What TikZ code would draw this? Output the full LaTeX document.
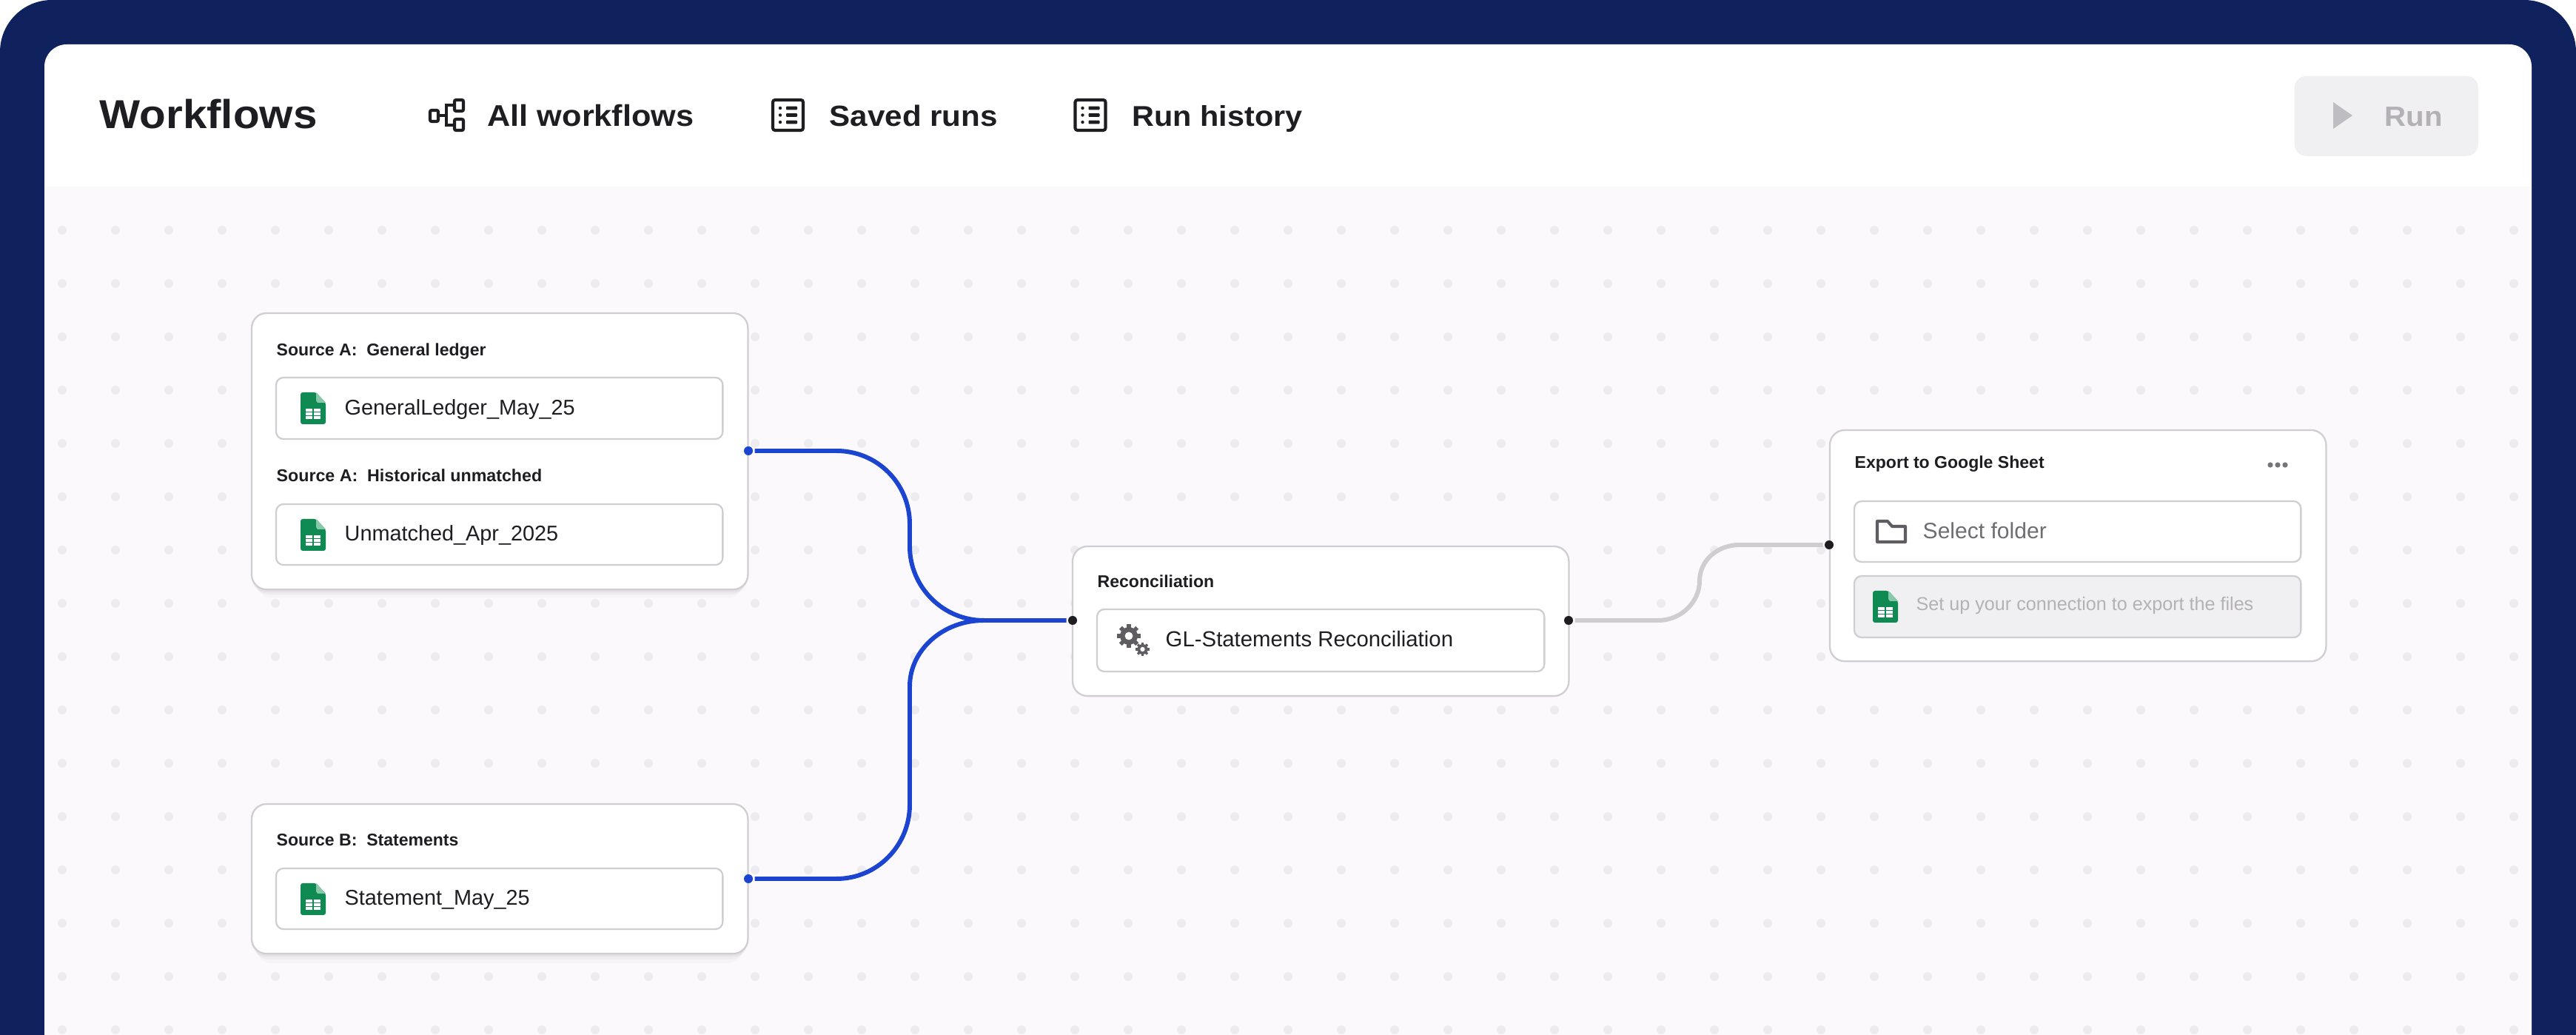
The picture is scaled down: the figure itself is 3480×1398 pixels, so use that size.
\documentclass[tikz,border=0pt]{standalone}
\usepackage{fontspec}
\setmainfont{Liberation Sans}
\newfontfamily\headfont[FakeStretch=1.07]{Liberation Sans}
\usetikzlibrary{shadows}

\definecolor{navyframe}{HTML}{10225E}
\definecolor{canvasbg}{HTML}{FBF9FC}
\definecolor{griddot}{HTML}{ECEBEF}
\definecolor{inkdark}{HTML}{1E1D21}
\definecolor{edgegray}{HTML}{D0CED3}
\definecolor{flowblue}{HTML}{1B45D1}
\definecolor{flowgray}{HTML}{CFCDD1}
\definecolor{disabledbg}{HTML}{F0EFF2}
\definecolor{disabledtxt}{HTML}{B3B1B6}
\definecolor{sheetgreen}{HTML}{0F8A53}
\definecolor{sheetfold}{HTML}{86C8A8}
\definecolor{iconin}{HTML}{5F5D62}

\tikzset{
    card/.style={draw=edgegray, line width=.65pt, fill=white, rounded corners=.2cm, inner sep=0, outer sep=0, anchor=north west},
    softcard/.style={card,
        drop shadow={shadow xshift=0cm, shadow yshift=-.04cm, opacity=.04, fill=black},
        drop shadow={shadow xshift=0cm, shadow yshift=-.09cm, shadow scale=.99, opacity=.03, fill=black},
        drop shadow={shadow xshift=0cm, shadow yshift=-.15cm, shadow scale=.98, opacity=.02, fill=black}},
    slot/.style={draw=edgegray, line width=.65pt, fill=white, rounded corners=.1cm, inner sep=0, outer sep=0, anchor=north west},
    label/.style={anchor=base west, inner sep=0, text=inkdark},
    navlabel/.style={label, font=\headfont\bfseries\fontsize{11.5}{14}\selectfont},
    cardtitle/.style={label, font=\bfseries\fontsize{6.55}{8}\selectfont},
    slottext/.style={label, font=\fontsize{8.2}{10}\selectfont},
    portblue/.style={circle, fill=flowblue, minimum size=.12cm, inner sep=0, outer sep=.025cm},
    portdark/.style={circle, fill=inkdark, minimum size=.12cm, inner sep=0, outer sep=.025cm},
    flowline/.style={draw=flowblue, line width=1.7pt},
    idleline/.style={draw=flowgray, line width=1.7pt},
    sheeticon/.pic={
        \fill [sheetgreen, rounded corners=.03cm] (0,0) -- (21,0) -- (34,14) -- (34,43) -- (0,43) -- cycle;
        \fill [sheetfold] (21,0) -- (34,14) -- (23,14) -- (21,11) -- cycle;
        \fill [white] (7,22) rectangle (27,36);
        \draw [sheetgreen, line width=.4pt] (7,26.7) -- (27,26.7) (7,31.3) -- (27,31.3) (17,22) -- (17,36);
    },
    listicon/.pic={
        \draw [inkdark, line width=1.15pt, rounded corners=.03cm] (2,2) rectangle (43,43);
        \foreach \rowy in {13,22.5,32} {
            \fill [inkdark] (12,\rowy) circle (2.2);
            \fill [inkdark, rounded corners=.01cm] (20,\rowy-2.3) rectangle (35,\rowy+2.3);
        }
    },
    gearwheel/.pic={
        \foreach \ang in {0,45,...,315} {
            \fill [iconin, rotate=\ang] (-.22*\gearsize,-1.3*\gearsize) rectangle (.22*\gearsize,1.3*\gearsize);
        }
        \fill [iconin] (0,0) circle (\gearsize);
        \fill [white] (0,0) circle (.45*\gearsize);
    }
}

\begin{document}
\begin{tikzpicture}[x=.01cm, y=-.01cm]
    \useasboundingbox (0,0) rectangle (3480,1398);

    % Frame and canvas
    \fill [navyframe] (0,1398) -- (0,70) arc [start angle=180, end angle=270, radius=70] -- (3410,0) arc [start angle=270, end angle=360, radius=70] -- (3480,1398) -- cycle;
    \fill [white] (60,1398) -- (60,90) arc [start angle=180, end angle=270, radius=30] -- (3390,60) arc [start angle=270, end angle=360, radius=30] -- (3420,1398) -- cycle;
    \fill [canvasbg] (60,252) rectangle (3420,1398);
    \foreach \i in {0,...,46} {
        \foreach \j in {0,...,15} {
            \fill [griddot] (84+72*\i,311+72*\j) circle (6);
        }
    }

    % Top bar
    \node [label, font=\headfont\bfseries\fontsize{15.5}{18}\selectfont] (pagetitle) at (134,174) {Workflows};

    \draw [inkdark, line width=1.15pt, rounded corners=.02cm] (581,149) rectangle (592,164);
    \draw [inkdark, line width=1.15pt, rounded corners=.02cm] (614,135) rectangle (626,150);
    \draw [inkdark, line width=1.15pt, rounded corners=.02cm] (614,161) rectangle (626,176);
    \draw [inkdark, line width=1.15pt] (592,156) -- (603,156) (614,142) -- (603,142) -- (603,169) -- (614,169);
    \node [navlabel] (navall) at (658,171) {All workflows};

    \pic at (1042,133) {listicon};
    \node [navlabel, font=\headfont\bfseries\fontsize{11.2}{14}\selectfont] (navsaved) at (1120,171) {Saved runs};

    \pic at (1450.5,133) {listicon};
    \node [navlabel, font=\headfont\bfseries\fontsize{11}{14}\selectfont] (navhistory) at (1529,171) {Run history};

    \node [draw=none, fill=disabledbg, rounded corners=.16cm, minimum width=2.48cm, minimum height=1.08cm, inner sep=0, anchor=north west] (runbtn) at (3099,102) {};
    \fill [disabledtxt!85!white] (3152,138) -- (3178,156) -- (3152,174) -- cycle;
    \node [navlabel, text=disabledtxt, font=\headfont\bfseries\fontsize{10.7}{14}\selectfont] (runlabel) at (3221,171) {Run};

    % Source A
    \node [softcard, minimum width=6.7cm, minimum height=3.73cm] (srcA) at (340,423) {};
    \node [cardtitle] (srcAtitle) at (373,481) {Source A:\ \ General ledger};
    \node [slot, minimum width=6.03cm, minimum height=.83cm] (ledgerslot) at (373,510) {};
    \pic at (406,530) {sheeticon};
    \node [slottext] (ledgerfile) at (465,561) {GeneralLedger\_May\_25};
    \node [cardtitle, font=\bfseries\fontsize{6.6}{8}\selectfont] (srcAtitletwo) at (373,651) {Source A:\ \ Historical unmatched};
    \node [slot, minimum width=6.03cm, minimum height=.82cm] (unmatchedslot) at (373,681) {};
    \pic at (406,701) {sheeticon};
    \node [slottext] (unmatchedfile) at (465,731) {Unmatched\_Apr\_2025};

    % Source B
    \node [softcard, minimum width=6.7cm, minimum height=2.02cm] (srcB) at (340,1086) {};
    \node [cardtitle] (srcBtitle) at (373,1143) {Source B:\ \ Statements};
    \node [slot, minimum width=6.03cm, minimum height=.82cm] (statementslot) at (373,1173) {};
    \pic at (406,1193) {sheeticon};
    \node [slottext] (statementfile) at (465,1223) {Statement\_May\_25};

    % Reconciliation
    \node [card, minimum width=6.7cm, minimum height=2.02cm] (recon) at (1449,738) {};
    \node [cardtitle] (recontitle) at (1482,794) {Reconciliation};
    \node [slot, minimum width=6.04cm, minimum height=.84cm] (reconslot) at (1482,823) {};
    \def\gearsize{12}
    \pic at (1525,859) {gearwheel};
    \def\gearsize{7}
    \pic at (1543.5,877) {gearwheel};
    \node [slottext, font=\fontsize{8.35}{10}\selectfont] (reconname) at (1574,874) {GL-Statements Reconciliation};

    % Export
    \node [card, minimum width=6.7cm, minimum height=3.12cm] (export) at (2472,581) {};
    \node [cardtitle] (exporttitle) at (2505,633) {Export to Google Sheet};
    \foreach \dotx in {3067,3077,3087} {
        \fill [iconin!85!white] (\dotx,628) circle (3.6);
    }
    \node [slot, minimum width=6.03cm, minimum height=.82cm] (folderslot) at (2505,677) {};
    \draw [iconin, line width=1.15pt, line join=round] (2536,732) -- (2536,704) -- (2550,704) -- (2556,711) -- (2574,711) -- (2574,732) -- cycle;
    \node [slottext, text=iconin!90!white, font=\fontsize{8.55}{10}\selectfont] (folderlabel) at (2597,728) {Select folder};
    \node [slot, fill=disabledbg, minimum width=6.03cm, minimum height=.83cm] (connslot) at (2505,778) {};
    \pic at (2530,798) {sheeticon};
    \node [slottext, text=disabledtxt, font=\fontsize{7.15}{9}\selectfont] (connlabel) at (2588,825) {Set up your connection to export the files};

    % Ports and links
    \node [portblue] (srcAout) at (1011,609) {};
    \node [portblue] (srcBout) at (1011,1187) {};
    \node [portdark] (reconin) at (1449,838) {};
    \node [portdark] (reconout) at (2119,838) {};
    \node [portdark] (exportin) at (2471,736) {};
    \coordinate (joinpt) at (1329,838);

    \draw [flowline] (srcAout) -- (1130,609) .. controls (1185,609) and (1229,653) .. (1229,708) -- (1229,738) .. controls (1229,793) and (1274,838) .. (joinpt) -- (reconin);
    \draw [flowline] (srcBout) -- (1130,1187) .. controls (1185,1187) and (1229,1142) .. (1229,1087) -- (1229,927) .. controls (1229,878) and (1274,838) .. (joinpt);
    \draw [idleline] (reconout) -- (2240,838) .. controls (2272,838) and (2296,812) .. (2296,785) .. controls (2296,757) and (2320,736) .. (2350,736) -- (exportin);
\end{tikzpicture}
\end{document}
